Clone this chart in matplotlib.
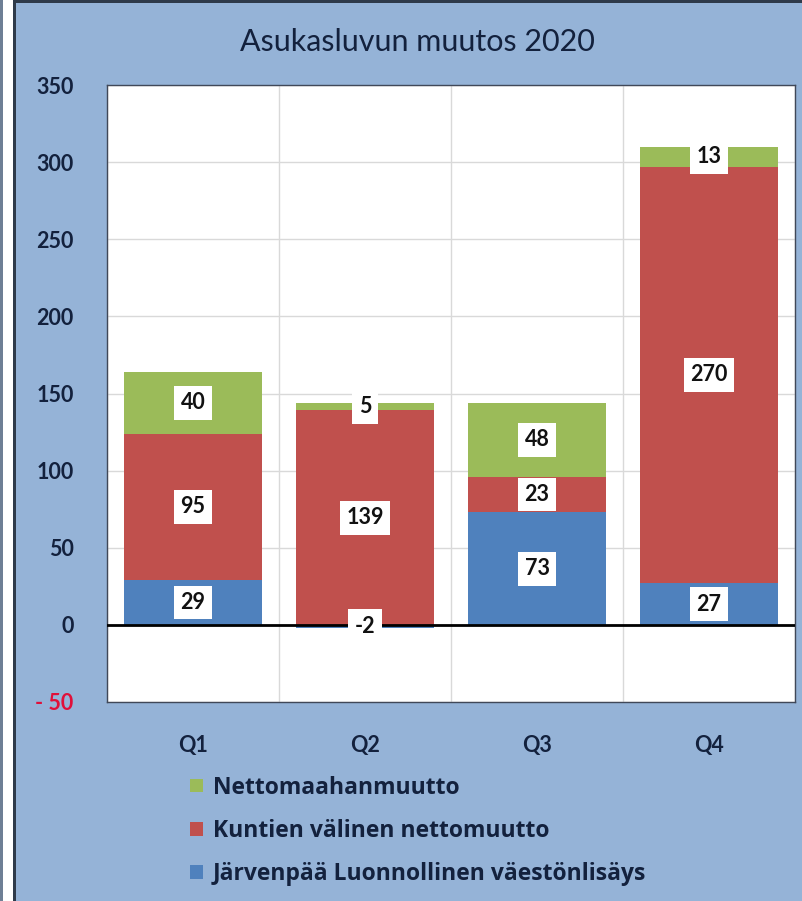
import matplotlib
matplotlib.use("Agg")
import matplotlib.pyplot as plt
from matplotlib.patches import Rectangle
import numpy as np

plt.rcParams['font.family'] = ['Lato', 'DejaVu Sans']

quarters = ["Q1", "Q2", "Q3", "Q4"]
luonnollinen = [29, -2, 73, 27]
kuntien_valinen = [95, 139, 23, 270]
maahanmuutto = [40, 5, 48, 13]

series_names = ["Järvenpää Luonnollinen väestönlisäys",
                "Kuntien välinen nettomuutto",
                "Nettomaahanmuutto"]
series_colors = ["#4F81BD", "#C0504D", "#9BBB59"]
y_ticks = [-50, 0, 50, 100, 150, 200, 250, 300, 350]
y_tick_labels = ["- 50", "0", "50", "100", "150", "200", "250", "300", "350"]

bg = "#95B3D7"
navy = "#13213D"

fig = plt.figure(figsize=(8.02, 9.01), dpi=100)
fig.patch.set_facecolor(bg)

# frame decoration on the left and top
fig.patches.append(Rectangle((0, 0), 14 / 802, 1, transform=fig.transFigure,
                             facecolor="white", edgecolor="none", zorder=0))
fig.patches.append(Rectangle((0, 0), 3 / 802, 1, transform=fig.transFigure,
                             facecolor="#6E7F95", edgecolor="none", zorder=1))
fig.patches.append(Rectangle((13 / 802, 0), 3 / 802, 1, transform=fig.transFigure,
                             facecolor="#2E3A4A", edgecolor="none", zorder=1))
fig.patches.append(Rectangle((15 / 802, 1 - 3 / 901), 1, 3 / 901, transform=fig.transFigure,
                             facecolor="#2E3A4A", edgecolor="none", zorder=1))

ax = fig.add_axes([107 / 802, 1 - 702 / 901, 688 / 802, 617 / 901])
ax.set_facecolor("white")

x = np.arange(len(quarters))
width = 0.8

lu = np.array(luonnollinen)
ku = np.array(kuntien_valinen)
ma = np.array(maahanmuutto)

# Excel-style stacking: negatives go below zero, positives stack from zero
pos_base = np.where(lu > 0, lu, 0)
bars_lu = ax.bar(x, lu, width, color=series_colors[0], zorder=2)
bars_ku = ax.bar(x, ku, width, bottom=pos_base, color=series_colors[1], zorder=2)
bars_ma = ax.bar(x, ma, width, bottom=pos_base + ku, color=series_colors[2], zorder=2)

box = dict(boxstyle="square,pad=0.3", facecolor="white", edgecolor="none")
for bars, vals, bottoms in [(bars_lu, lu, np.zeros(4)), (bars_ku, ku, pos_base),
                            (bars_ma, ma, pos_base + ku)]:
    for xi, v, b in zip(x, vals, bottoms):
        ax.text(xi, b + v / 2, str(v), ha="center", va="center",
                fontsize=15.5, fontweight="bold", color="#111111", bbox=box, zorder=5)

ax.axhline(0, color="black", lw=2, zorder=3)

ax.set_xlim(-0.5, 3.5)
ax.set_ylim(-50, 350)
ax.set_yticks(y_ticks)
ax.set_yticklabels(y_tick_labels)
for lbl, v in zip(ax.get_yticklabels(), y_ticks):
    lbl.set_color("#E0103A" if v < 0 else navy)
    lbl.set_fontsize(15.5)
    lbl.set_fontweight("bold")
ax.set_xticks(x)
ax.set_xticklabels(quarters, fontsize=15.5, fontweight="bold", color=navy)
ax.tick_params(axis="both", length=0)
ax.tick_params(axis="y", pad=24)
ax.tick_params(axis="x", pad=24)

ax.set_xticks(np.arange(-0.5, 4, 1), minor=True)
ax.tick_params(axis="x", which="minor", length=0)
ax.grid(True, axis="y", color="#D9D9D9", lw=1, zorder=0)
ax.grid(True, axis="x", which="minor", color="#D9D9D9", lw=1, zorder=0)
ax.grid(False, axis="x", which="major")
for s in ax.spines.values():
    s.set_color("#404858")
    s.set_linewidth(1)

fig.text(0.52, 1 - 42 / 901, "Asukasluvun muutos 2020", ha="center", va="center",
         fontsize=22, color=navy)

handles = [bars_ma, bars_ku, bars_lu]
labels = [series_names[2], series_names[1], series_names[0]]
fig.legend(handles, labels, loc="center left", bbox_to_anchor=(190 / 802, 1 - 831 / 901),
           frameon=False, handlelength=0.55, handleheight=0.55,
           handletextpad=0.45, labelspacing=0.85, labelcolor=navy,
           borderpad=0, borderaxespad=0,
           prop={"family": "Open Sans", "weight": "bold", "size": 16.5})

fig.savefig("out.png", dpi=100, facecolor=fig.get_facecolor())
